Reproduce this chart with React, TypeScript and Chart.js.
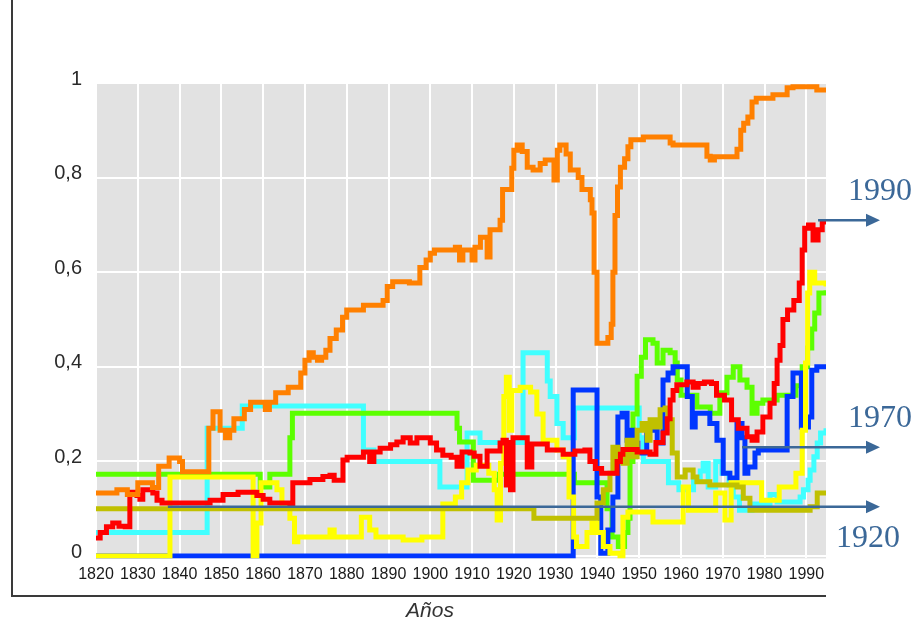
import React, { useEffect, useRef } from "react";
import { Chart, registerables } from "chart.js";

Chart.register(...registerables);

type Pt = [number, number];

const xTickYears = [1820, 1830, 1840, 1850, 1860, 1870, 1880, 1890, 1900, 1910, 1920, 1930, 1940, 1950, 1960, 1970, 1980, 1990];
const yTickValues = [0, 0.2, 0.4, 0.6, 0.8, 1];
const axisTitle = "Años";

const orangeSeries: Pt[] = [
  [1820, 0.133], [1825, 0.14], [1827.5, 0.13], [1830, 0.155], [1833.5, 0.145], [1835, 0.19], [1837.5, 0.207],
  [1840, 0.2], [1840.7, 0.178], [1847, 0.27], [1848, 0.305], [1849.7, 0.266], [1851, 0.25], [1852, 0.266],
  [1853, 0.29], [1855.5, 0.31], [1857, 0.325], [1860.5, 0.31], [1861.5, 0.325], [1863, 0.345], [1866, 0.357],
  [1869, 0.387], [1870, 0.414], [1871, 0.43], [1872, 0.42], [1873, 0.414], [1874, 0.42], [1875, 0.435],
  [1876, 0.46], [1877.5, 0.478], [1879, 0.505], [1880, 0.52], [1884, 0.53], [1888.7, 0.54], [1889.7, 0.57],
  [1891, 0.58], [1895, 0.577], [1897.5, 0.61], [1899, 0.626], [1900, 0.64], [1901, 0.647], [1906, 0.653],
  [1907, 0.626], [1907.8, 0.647], [1910, 0.626], [1910.7, 0.653], [1912, 0.674], [1913.6, 0.632], [1914.3, 0.69],
  [1916.7, 0.71], [1917.3, 0.775], [1919.5, 0.82], [1920, 0.858], [1920.8, 0.869], [1922, 0.855], [1923.2, 0.822],
  [1924.6, 0.816], [1926.3, 0.83], [1927.5, 0.837], [1929.6, 0.795], [1930.4, 0.858], [1931, 0.869], [1932.5, 0.85],
  [1933.5, 0.816], [1935.4, 0.8], [1936.3, 0.775], [1938.3, 0.753], [1938.7, 0.725], [1939.2, 0.6], [1939.9, 0.45],
  [1942.5, 0.462], [1943.3, 0.49], [1943.7, 0.6], [1944.2, 0.72], [1944.8, 0.78], [1945.5, 0.822], [1946.5, 0.84],
  [1947.3, 0.865], [1948, 0.88], [1951, 0.886], [1957.4, 0.873], [1958.1, 0.869], [1966.2, 0.845], [1967, 0.837],
  [1968, 0.844], [1973.4, 0.86], [1974.3, 0.9], [1975, 0.915], [1976, 0.928], [1977, 0.96], [1978, 0.968],
  [1982, 0.975], [1985.4, 0.99], [1986.8, 0.992], [1992.5, 0.985], [1994.7, 0.98],
];

const redSeries: Pt[] = [
  [1820, 0.038], [1821, 0.05], [1822.5, 0.062], [1824, 0.07], [1825.5, 0.063], [1827, 0.062], [1828.1, 0.135],
  [1829.8, 0.128], [1830.5, 0.12], [1831.2, 0.14], [1833.6, 0.133], [1834.6, 0.118], [1835.8, 0.112],
  [1847.3, 0.118], [1850.4, 0.13], [1854, 0.135], [1858.5, 0.128], [1860, 0.12], [1861.6, 0.112], [1866.4, 0.11],
  [1867.1, 0.155], [1871.2, 0.162], [1874.3, 0.168], [1876, 0.171], [1877, 0.16], [1879.1, 0.203], [1880.1, 0.209],
  [1884, 0.22], [1885.5, 0.2], [1886.5, 0.22], [1888, 0.228], [1890.5, 0.235], [1892, 0.241], [1893.5, 0.25],
  [1895.2, 0.239], [1896.8, 0.25], [1900, 0.239], [1901.5, 0.224], [1903, 0.213], [1905, 0.209], [1906.4, 0.19],
  [1907.6, 0.22], [1909.5, 0.218], [1910.5, 0.211], [1911.9, 0.19], [1913.6, 0.222], [1916.7, 0.239],
  [1917.4, 0.245], [1918.2, 0.15], [1918.7, 0.24], [1919.2, 0.14], [1919.8, 0.25], [1923.2, 0.188],
  [1924.3, 0.237], [1928, 0.224], [1931.8, 0.215], [1934.6, 0.222], [1937, 0.224], [1938.2, 0.2], [1939.5, 0.185],
  [1941, 0.175], [1944.7, 0.2], [1945.5, 0.215], [1946.1, 0.225], [1949.5, 0.22], [1952.6, 0.215], [1954, 0.24],
  [1955.7, 0.26], [1956.7, 0.29], [1957.4, 0.33], [1958.1, 0.35], [1959, 0.362], [1961.4, 0.368], [1962.9, 0.357],
  [1964.1, 0.365], [1965.6, 0.368], [1967.3, 0.365], [1968.5, 0.34], [1970.4, 0.33], [1972.1, 0.288],
  [1973.7, 0.27], [1975.8, 0.252], [1977, 0.245], [1978.2, 0.262], [1979.6, 0.294], [1981.3, 0.323],
  [1982.3, 0.365], [1983, 0.414], [1983.7, 0.445], [1984.4, 0.5], [1985.5, 0.52], [1987, 0.54], [1988.3, 0.577],
  [1989, 0.647], [1989.6, 0.693], [1990.5, 0.7], [1991.6, 0.668], [1992.8, 0.69], [1993.8, 0.706], [1994.7, 0.71],
];

const blueSeries: Pt[] = [
  [1820, 0], [1934.2, 0.351], [1939.9, 0.125], [1940.8, 0.006], [1942.5, 0.055], [1943.7, 0.125], [1944.9, 0.294],
  [1945.9, 0.302], [1947.1, 0.245], [1947.8, 0.266], [1948.5, 0.239], [1949.7, 0.218], [1951.8, 0.266],
  [1954.3, 0.239], [1955.7, 0.372], [1956.9, 0.387], [1958.1, 0.4], [1961.5, 0.337], [1962.7, 0.273],
  [1963.4, 0.302], [1966.9, 0.28], [1968.6, 0.245], [1970.1, 0.175], [1971.7, 0.165], [1973.4, 0.28],
  [1974.6, 0.25], [1975.3, 0.175], [1976, 0.188], [1977.7, 0.218], [1978.5, 0.224], [1985.4, 0.337],
  [1986.8, 0.387], [1988.8, 0.273], [1990.5, 0.294], [1991.3, 0.393], [1992.5, 0.4], [1994.7, 0.4],
];

const greenSeries: Pt[] = [
  [1820, 0.173], [1859.3, 0.146], [1861.6, 0.173], [1866.4, 0.25], [1867, 0.302], [1906.4, 0.27], [1907, 0.241],
  [1910.3, 0.16], [1916.5, 0.173], [1933.4, 0.173], [1934.5, 0.155], [1942.3, 0.1], [1943.5, 0.04], [1945, 0.02],
  [1946.5, 0.05], [1947.3, 0.08], [1947.8, 0.2], [1948.5, 0.3], [1949.5, 0.38], [1950.5, 0.42], [1951.5, 0.457],
  [1953.3, 0.45], [1954.3, 0.408], [1955.7, 0.435], [1957.4, 0.43], [1958.6, 0.408], [1959.1, 0.372],
  [1960, 0.34], [1963.8, 0.315], [1967, 0.302], [1969.3, 0.345], [1971, 0.378], [1972.5, 0.4], [1974.1, 0.372],
  [1975.8, 0.357], [1977, 0.302], [1978.2, 0.323], [1979.6, 0.33], [1983, 0.34], [1987.5, 0.36], [1989, 0.4],
  [1990.3, 0.44], [1991.3, 0.48], [1992, 0.514], [1993, 0.556], [1994.7, 0.562],
];

const cyanSeries: Pt[] = [
  [1820, 0.05], [1846.6, 0.27], [1855, 0.317], [1884, 0.224], [1886.5, 0.2], [1902.3, 0.146], [1908.8, 0.26],
  [1911.9, 0.24], [1922.2, 0.43], [1928, 0.37], [1928.7, 0.337], [1930.3, 0.28], [1931.8, 0.25], [1934.5, 0.313],
  [1950, 0.25], [1951, 0.2], [1957, 0.155], [1959.5, 0.14], [1963, 0.16], [1964.6, 0.18], [1965.3, 0.196],
  [1966.5, 0.146], [1968.3, 0.2], [1969.8, 0.175], [1971.5, 0.15], [1972.5, 0.125], [1974, 0.097], [1977, 0.11],
  [1981.3, 0.13], [1983, 0.114], [1988.5, 0.125], [1989.3, 0.14], [1990.4, 0.16], [1990.9, 0.182],
  [1991.8, 0.21], [1992.6, 0.239], [1993.4, 0.26], [1994.7, 0.27],
];

const yellowSeries: Pt[] = [
  [1820, 0], [1837.7, 0.167], [1857.6, 0], [1858.5, 0.07], [1859.5, 0.155], [1863.3, 0.14], [1864.5, 0.11],
  [1866.4, 0.08], [1867.5, 0.03], [1868.3, 0.04], [1876, 0.055], [1877, 0.04], [1883.5, 0.082], [1885.5, 0.055],
  [1887, 0.04], [1893.5, 0.034], [1898, 0.04], [1903, 0.11], [1906, 0.125], [1907.5, 0.155], [1909, 0.182],
  [1911, 0.192], [1914, 0.175], [1915.3, 0.14], [1916, 0.076], [1916.8, 0.196], [1917.6, 0.337], [1918.2, 0.378],
  [1918.9, 0.266], [1919.5, 0.35], [1921.5, 0.357], [1924, 0.347], [1925.5, 0.3], [1927, 0.245], [1930.3, 0.224],
  [1931.8, 0.21], [1933.2, 0.125], [1934.3, 0.04], [1935, 0.02], [1937.5, 0.05], [1938.7, 0.07], [1939.9, 0.05],
  [1941.4, 0.02], [1943, 0.006], [1945.4, 0], [1946.1, 0.082], [1947.3, 0.093], [1953.3, 0.072], [1960.5, 0.146],
  [1961.8, 0.097], [1968.3, 0.133], [1970.5, 0.076], [1972, 0.155], [1979.3, 0.118], [1983.5, 0.146],
  [1987.5, 0.175], [1989, 0.266], [1989.8, 0.408], [1990.3, 0.556], [1990.8, 0.6], [1992, 0.577], [1994.7, 0.57],
];

const oliveSeries: Pt[] = [
  [1820, 0.1], [1924.8, 0.08], [1939.9, 0.112], [1941.4, 0.14], [1943, 0.175], [1943.7, 0.23], [1944.9, 0.21],
  [1946.1, 0.196], [1947.1, 0.245], [1948.3, 0.21], [1949.5, 0.266], [1950.7, 0.28], [1951.9, 0.245],
  [1952.6, 0.288], [1953.8, 0.273], [1955, 0.309], [1956.2, 0.313], [1956.9, 0.288], [1957.9, 0.218],
  [1959.1, 0.167], [1961, 0.182], [1962.9, 0.167], [1963.8, 0.157], [1966.9, 0.15], [1973.4, 0.146],
  [1974.9, 0.122], [1976.5, 0.097], [1990.9, 0.104], [1992.6, 0.133], [1994.7, 0.135],
];

const arrowLabels = ["1990", "1970", "1920"];
const arrowStartYears = [1992.8, 1974.6, 1837.2];
const arrowLevels = [0.71, 0.23, 0.104];

const seriesList = [
  { data: orangeSeries, color: "#ff8000" },
  { data: redSeries, color: "#ff0000" },
  { data: oliveSeries, color: "#c0c000" },
  { data: yellowSeries, color: "#ffff00" },
  { data: blueSeries, color: "#0036ff" },
  { data: greenSeries, color: "#5cff00" },
  { data: cyanSeries, color: "#40ffff" },
];

const decorPlugin = {
  id: "decor",
  beforeDraw(chart: any) {
    const { ctx, chartArea: a } = chart;
    ctx.save();
    ctx.fillStyle = "#e2e2e2";
    ctx.fillRect(a.left, a.top, a.right - a.left, a.bottom - a.top);
    ctx.restore();
  },
  afterDraw(chart: any) {
    const { ctx, chartArea: a } = chart;
    const xs = chart.scales.x;
    const ys = chart.scales.y;
    ctx.save();
    // frame
    ctx.strokeStyle = "#3a3a3a";
    ctx.lineWidth = 2;
    ctx.beginPath();
    ctx.moveTo(12, 0);
    ctx.lineTo(12, 596);
    ctx.lineTo(a.right, 596);
    ctx.stroke();
    // axis title
    ctx.fillStyle = "#333";
    ctx.font = 'italic 21px "Liberation Sans", Arial, sans-serif';
    ctx.textAlign = "center";
    ctx.textBaseline = "alphabetic";
    ctx.fillText(axisTitle, 430, 617);
    // arrows
    const blueInk = "#3b6898";
    const tipX = 880;
    arrowLabels.forEach((label, i) => {
      const x0 = xs.getPixelForValue(arrowStartYears[i]);
      const y0 = ys.getPixelForValue(arrowLevels[i]);
      ctx.strokeStyle = blueInk;
      ctx.fillStyle = blueInk;
      ctx.lineWidth = 2.5;
      ctx.beginPath();
      ctx.moveTo(x0, y0);
      ctx.lineTo(tipX - 12, y0);
      ctx.stroke();
      ctx.beginPath();
      ctx.moveTo(tipX, y0);
      ctx.lineTo(tipX - 14, y0 - 6.5);
      ctx.lineTo(tipX - 14, y0 + 6.5);
      ctx.closePath();
      ctx.fill();
      ctx.font = '32px "Liberation Serif", "Times New Roman", serif';
      ctx.textAlign = "left";
      ctx.textBaseline = "alphabetic";
      if (i === 2) ctx.fillText(label, 836, y0 + 40);
      else ctx.fillText(label, 848, y0 - 20);
    });
    ctx.restore();
  },
};

export default function App() {
  const ref = useRef<HTMLCanvasElement | null>(null);
  useEffect(() => {
    document.body.style.margin = "0";
    const canvas = ref.current;
    if (!canvas) return;
    const chart = new Chart(canvas, {
      type: "line",
      data: {
        datasets: seriesList.map((s) => ({
          data: s.data.map(([x, y]) => ({ x, y })),
          borderColor: s.color,
          backgroundColor: s.color,
          borderWidth: 5,
          pointRadius: 0,
          stepped: true,
          fill: false,
          borderJoinStyle: "miter" as const,
          borderCapStyle: "butt" as const,
        })),
      },
      options: {
        responsive: false,
        animation: false,
        events: [],
        layout: { padding: { left: 0, top: 83, right: 94, bottom: 0 } },
        plugins: { legend: { display: false }, tooltip: { enabled: false } },
        scales: {
          x: {
            type: "linear",
            min: 1820,
            max: 1994.7,
            afterFit: (s: any) => { s.height = 64.6; },
            afterBuildTicks: (s: any) => { s.ticks = xTickYears.map((v) => ({ value: v })); },
            grid: { color: "#ffffff", lineWidth: 2, drawTicks: false },
            border: { display: false },
            ticks: {
              autoSkip: false,
              maxRotation: 0,
              padding: 7,
              color: "#1a1a1a",
              font: { family: '"Liberation Sans", Arial, sans-serif', size: 16 },
              callback: (v: any) => String(v),
            },
          },
          y: {
            type: "linear",
            min: -0.005,
            max: 1,
            afterFit: (s: any) => { s.width = 96; },
            afterBuildTicks: (s: any) => { s.ticks = yTickValues.map((v) => ({ value: v })); },
            grid: { color: "#ffffff", lineWidth: 2, drawTicks: false },
            border: { display: false },
            ticks: {
              padding: 14,
              labelOffset: -4,
              color: "#2a2a2a",
              font: { family: '"Liberation Sans", Arial, sans-serif', size: 20 },
              callback: (v: any) => (v === 0 ? "0" : v === 1 ? "1" : Number(v).toFixed(1).replace(".", ",")),
            },
          },
        },
      },
      plugins: [decorPlugin],
    });
    return () => chart.destroy();
  }, []);
  return (
    <div style={{ width: 920, height: 623, background: "#ffffff" }}>
      <canvas ref={ref} width={920} height={623} style={{ display: "block" }} />
    </div>
  );
}
